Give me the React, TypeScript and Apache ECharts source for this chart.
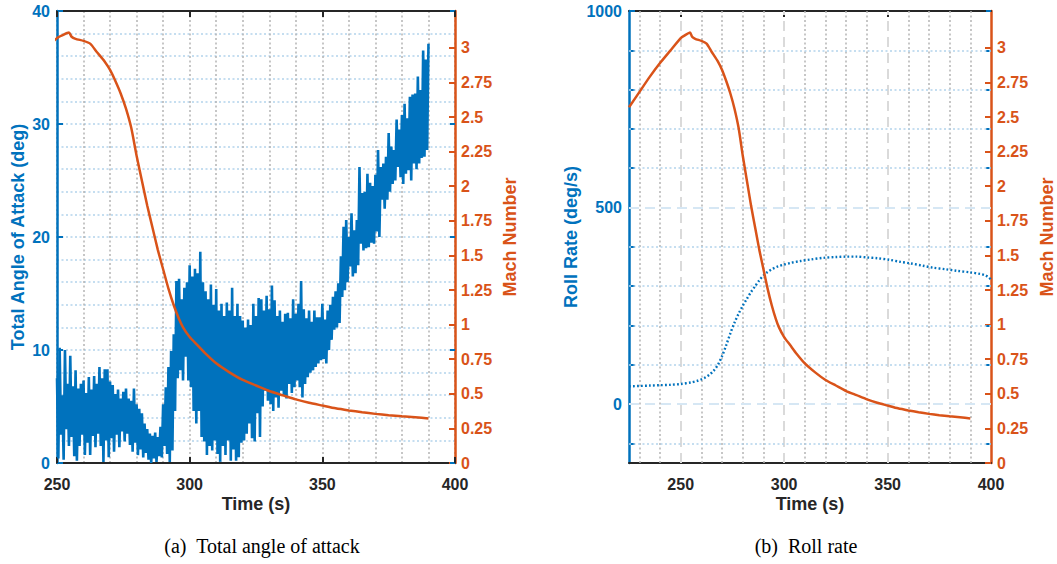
import React, { useEffect, useRef } from "react";
import * as echarts from "echarts";

// ---------------- data ----------------
// Total angle of attack: upper envelope samples at t = 250, 251, ... 390 (deg)
const aoaStartTime = 250;
const aoaHigh = [
  7.5, 10.2, 6.0, 10.0, 7.0, 9.5, 6.8, 8.2, 6.6, 7.0,
  7.3, 6.2, 7.6, 6.5, 7.7, 7.0, 8.5, 7.5, 8.3, 8.3,
  7.2, 6.9, 6.1, 6.5, 5.7, 6.3, 6.6, 5.7, 5.5, 6.6,
  5.2, 4.8, 4.4, 3.5, 3.0, 2.6, 2.4, 2.7, 2.3, 3.2,
  5.2, 6.7, 8.5, 9.9, 11.4, 16.1, 16.3, 14.5, 15.5, 16.0,
  17.5, 16.5, 17.2, 16.8, 18.7, 16.0, 15.2, 14.5, 15.8, 14.0,
  15.4, 13.5, 14.1, 13.0, 14.2, 13.5, 15.5, 13.0, 14.1, 13.0,
  12.6, 12.0, 12.7, 12.2, 14.1, 13.0, 14.6, 14.5, 13.5, 14.8,
  13.6, 15.7, 14.4, 13.0, 13.5, 12.5, 13.2, 13.3, 12.8, 14.5,
  13.2, 14.1, 16.1, 13.6, 12.8, 13.5, 12.5, 13.5, 12.9, 12.9,
  14.1, 12.7, 13.5, 14.0, 14.7, 15.2, 15.9, 18.3, 20.9, 21.5,
  20.0, 22.1, 20.6, 21.5, 26.2, 23.9, 24.0, 25.6, 24.8, 24.5,
  25.5, 27.7, 26.2, 26.5, 27.1, 29.2, 28.0, 27.7, 30.4, 29.5,
  30.8, 31.8, 30.5, 32.4, 32.6, 32.7, 34.2, 33.0, 36.5, 35.7,
  37.1,
];
// lower envelope samples at t = 250.5, 251.5, ... 389.5 (deg)
const aoaLow = [
  0.4, 2.5, 0.3, 3.0, 1.5, 2.3, 0.6, 0.2, 1.5, 2.5,
  0.7, 1.8, 0.7, 2.4, 1.4, 2.6, 1.5, 0.1, 2.0, 0.5,
  2.2, 1.0, 2.5, 1.4, 2.8, 1.9, 2.6, 1.6, 1.0, 1.8,
  0.7, 1.2, 0.5, 0.9, 0.3, 0.0, 0.4, 0.1, 0.6, 0.5,
  1.5, 0.8, 0.1, 1.1, 4.6, 7.5, 8.2, 7.3, 9.4, 7.3,
  6.7, 4.6, 3.5, 4.6, 2.3, 1.9, 0.7, 1.5, 1.1, 2.0,
  0.8, 0.1, 1.5, 0.7, 2.0, 0.2, 1.2, 0.2, 0.5, 1.8,
  2.0, 2.6, 3.5, 2.2, 1.9, 4.4, 2.3, 5.0, 6.4, 5.5,
  5.2, 4.6, 5.8, 4.9, 6.4, 6.0, 5.7, 7.0, 6.2, 6.7,
  7.3, 6.7, 5.8, 7.0, 7.6, 8.0, 8.2, 8.5, 8.8, 9.1,
  9.2, 8.8, 10.0, 10.9, 11.8, 12.0, 12.4, 14.7, 15.3, 16.0,
  17.4, 16.5, 16.8, 17.5, 19.4, 18.8, 19.0, 19.1, 19.5, 19.4,
  20.5, 20.0, 23.3, 22.5, 23.3, 24.0, 24.7, 25.0, 26.2, 25.3,
  24.7, 25.6, 25.9, 25.0, 26.5, 26.0, 26.5, 27.0, 27.1, 27.7,
];

// Mach number
const machTime = [
  225, 230, 235, 240, 245, 250, 252, 254.5, 255.5, 257, 260, 262.5, 265, 268,
  270, 272, 274, 276, 278, 280, 282, 284, 286, 288, 290, 292, 294, 296, 297.5,
  300, 303, 306, 310, 315, 320, 325, 330, 335, 340, 345, 350, 355, 360, 365,
  370, 375, 380, 385, 390,
];
const machValue = [
  2.57, 2.68, 2.79, 2.89, 2.98, 3.07, 3.09, 3.11, 3.08, 3.065, 3.05, 3.03, 2.97,
  2.9, 2.84, 2.76, 2.67, 2.56, 2.42, 2.22, 2.04, 1.86, 1.7, 1.54, 1.4, 1.26,
  1.14, 1.04, 0.98, 0.91, 0.85, 0.79, 0.72, 0.655, 0.6, 0.56, 0.52, 0.49, 0.46,
  0.435, 0.415, 0.395, 0.38, 0.367, 0.355, 0.345, 0.337, 0.33, 0.322,
];

// Roll rate (deg/s)
const rollTime = [
  225, 230, 235, 240, 245, 250, 255, 258, 260, 262, 264, 266, 268, 270, 272,
  274, 276, 278, 280, 282, 284, 286, 288, 290, 292, 294, 297, 300, 303, 308,
  313, 319, 325, 330, 335, 340, 345, 351, 356, 361, 367, 372, 378, 383.5, 390,
  394.8, 397, 399, 400,
];
const rollRate = [
  45, 46, 47, 48, 49, 51, 55, 59, 63, 68, 75, 85, 100, 122, 150, 180, 207, 230,
  250, 268, 285, 300, 315, 327, 336, 343, 350, 355, 359, 364, 368, 372, 374,
  375, 375, 373, 371, 367, 362, 358, 352, 347, 343, 339, 335, 331, 328, 322,
  316,
];

// ticks / gridlines
const machTicks = [0, 0.25, 0.5, 0.75, 1, 1.25, 1.5, 1.75, 2, 2.25, 2.5, 2.75, 3];
const machMax = 3.266;
const rollXLabels = [250, 300, 350, 400];
const rollXMajor = [250, 300, 350];
const rollXMinor = [230, 240, 260, 270, 280, 290, 310, 320, 330, 340, 360, 370, 380, 390];
const rollYLabels = [0, 500, 1000];
const rollYTicks = [-100, 0, 100, 200, 300, 400, 500, 600, 700, 800, 900, 1000];
const rollYMajor = [0, 500];
const rollYMinor = [-100, 100, 200, 300, 400, 600, 700, 800, 900];

// ---------------- styles ----------------
const BLUE = "#0072BD";
const ORANGE = "#D95319";
const DARK = "#262626";
const GRAY_DOT = "#b4b4b4";
const BLUE_DOT = "#b3d3ec";
const GRAY_DASH = "#dadada";
const BLUE_DASH = "#d6e7f4";
const FONT = "'Liberation Sans', Arial, Helvetica, sans-serif";
const SERIF = "'Liberation Serif', 'Times New Roman', serif";
const DOT = [2, 2.5];
const DASH = [10, 6];

const plain = (v: number) => String(v);

const labelStyle = (color: string, margin: number) => ({
  color,
  fontWeight: "bold" as const,
  fontSize: 16,
  fontFamily: FONT,
  margin,
  formatter: plain,
});

function buildOption() {
  const aoaData: number[][] = [];
  for (let i = 0; i < aoaHigh.length; i++) {
    aoaData.push([aoaStartTime + i, aoaHigh[i]]);
    if (i < aoaLow.length) aoaData.push([aoaStartTime + i + 0.5, aoaLow[i]]);
  }
  const machData = machTime.map((t, i) => [t, machValue[i]]);
  const rollData = rollTime.map((t, i) => [t, rollRate[i]]);

  const machAxis = (gridIndex: number) => ({
    type: "value",
    gridIndex,
    position: "right",
    min: 0,
    max: machMax,
    axisLine: { show: true, onZero: false, lineStyle: { color: ORANGE, width: 2.5 } },
    axisTick: { show: true, inside: true, length: 6, customValues: machTicks, lineStyle: { color: ORANGE, width: 2 } },
    axisLabel: { show: true, customValues: machTicks, ...labelStyle(ORANGE, 6) },
    splitLine: { show: false },
  });

  const gridLines = [
    ...rollXMinor.map((v) => ({ xAxis: v, lineStyle: { color: GRAY_DOT, type: DOT, width: 1.5 } })),
    ...rollXMajor.map((v) => ({ xAxis: v, lineStyle: { color: GRAY_DASH, type: DASH, width: 2 } })),
    ...rollYMinor.map((v) => ({ yAxis: v, lineStyle: { color: BLUE_DOT, type: DOT, width: 1.5 } })),
    ...rollYMajor.map((v) => ({ yAxis: v, lineStyle: { color: BLUE_DASH, type: DASH, width: 2 } })),
  ];

  return {
    animation: false,
    backgroundColor: "#ffffff",
    grid: [
      { left: 57, top: 11, width: 398, height: 452, containLabel: false },
      { left: 629, top: 11, width: 362, height: 452, containLabel: false },
    ],
    xAxis: [
      {
        type: "value",
        gridIndex: 0,
        position: "bottom",
        min: 250,
        max: 400,
        interval: 50,
        axisLine: { onZero: false, lineStyle: { color: DARK, width: 2 } },
        axisTick: { inside: true, length: 6, lineStyle: { color: DARK, width: 2 } },
        axisLabel: { ...labelStyle(DARK, 13), showMinLabel: true, showMaxLabel: true },
        splitLine: { show: true, lineStyle: { color: GRAY_DOT, type: DOT, width: 1.5 } },
        minorTick: { show: false, splitNumber: 5 },
        minorSplitLine: { show: true, lineStyle: { color: GRAY_DOT, type: DOT, width: 1.5 } },
      },
      {
        type: "value",
        gridIndex: 0,
        position: "top",
        min: 250,
        max: 400,
        interval: 50,
        axisLine: { onZero: false, lineStyle: { color: DARK, width: 2 } },
        axisTick: { inside: true, length: 6, lineStyle: { color: DARK, width: 2 } },
        axisLabel: { show: false },
        splitLine: { show: false },
      },
      {
        type: "value",
        gridIndex: 1,
        position: "bottom",
        min: 225,
        max: 400,
        axisLine: { onZero: false, lineStyle: { color: DARK, width: 2 } },
        axisTick: { inside: true, length: 6, customValues: rollXMajor, lineStyle: { color: DARK, width: 2 } },
        axisLabel: { ...labelStyle(DARK, 13), customValues: rollXLabels, showMinLabel: true, showMaxLabel: true },
        splitLine: { show: false },
      },
      {
        type: "value",
        gridIndex: 1,
        position: "top",
        min: 225,
        max: 400,
        axisLine: { onZero: false, lineStyle: { color: DARK, width: 2 } },
        axisTick: { inside: true, length: 6, customValues: rollXMajor, lineStyle: { color: DARK, width: 2 } },
        axisLabel: { show: false },
        splitLine: { show: false },
      },
    ],
    yAxis: [
      {
        type: "value",
        gridIndex: 0,
        position: "left",
        min: 0,
        max: 40,
        interval: 10,
        axisLine: { show: true, onZero: false, lineStyle: { color: BLUE, width: 2.5 } },
        axisTick: { show: true, inside: true, length: 6, lineStyle: { color: BLUE, width: 2 } },
        axisLabel: labelStyle(BLUE, 7),
        splitLine: { show: true, lineStyle: { color: BLUE_DOT, type: DOT, width: 1.5 } },
        minorTick: { show: false, splitNumber: 5 },
        minorSplitLine: { show: true, lineStyle: { color: BLUE_DOT, type: DOT, width: 1.5 } },
      },
      machAxis(0),
      {
        type: "value",
        gridIndex: 0,
        position: "right",
        min: 0,
        max: 40,
        interval: 10,
        axisLine: { show: false },
        axisTick: { show: true, inside: true, length: 5, lineStyle: { color: BLUE, width: 2 } },
        axisLabel: { show: false },
        splitLine: { show: false },
      },
      {
        type: "value",
        gridIndex: 1,
        position: "left",
        min: -150,
        max: 1000,
        axisLine: { show: true, onZero: false, lineStyle: { color: BLUE, width: 2.5 } },
        axisTick: { show: true, inside: true, length: 6, customValues: rollYTicks, lineStyle: { color: BLUE, width: 2 } },
        axisLabel: { ...labelStyle(BLUE, 7), customValues: rollYLabels, showMaxLabel: true },
        splitLine: { show: false },
      },
      machAxis(1),
      {
        type: "value",
        gridIndex: 1,
        position: "right",
        min: -150,
        max: 1000,
        axisLine: { show: false },
        axisTick: { show: true, inside: true, length: 5, customValues: rollYTicks, lineStyle: { color: BLUE, width: 2 } },
        axisLabel: { show: false },
        splitLine: { show: false },
      },
    ],
    series: [
      {
        name: "Total Angle of Attack",
        type: "line",
        xAxisIndex: 0,
        yAxisIndex: 0,
        data: aoaData,
        showSymbol: false,
        symbol: "none",
        lineStyle: { color: BLUE, width: 2.6, join: "miter" },
        z: 3,
      },
      {
        name: "Mach Number (a)",
        type: "line",
        xAxisIndex: 0,
        yAxisIndex: 1,
        data: machData,
        showSymbol: false,
        symbol: "none",
        smooth: 0.2,
        lineStyle: { color: ORANGE, width: 2.5 },
        z: 4,
      },
      {
        name: "grid",
        type: "line",
        xAxisIndex: 2,
        yAxisIndex: 3,
        data: [],
        symbol: "none",
        z: 1,
        markLine: {
          silent: true,
          symbol: "none",
          z: 1,
          label: { show: false },
          emphasis: { disabled: true },
          data: gridLines,
        },
      },
      {
        name: "Roll Rate",
        type: "line",
        xAxisIndex: 2,
        yAxisIndex: 3,
        data: rollData,
        showSymbol: false,
        symbol: "none",
        smooth: 0.3,
        lineStyle: { color: BLUE, width: 2.4, type: [1.8, 2.2] },
        z: 3,
      },
      {
        name: "Mach Number (b)",
        type: "line",
        xAxisIndex: 2,
        yAxisIndex: 4,
        data: machData,
        showSymbol: false,
        symbol: "none",
        smooth: 0.2,
        lineStyle: { color: ORANGE, width: 2.5 },
        z: 4,
      },
    ],
    graphic: [
      vtext("Total Angle of Attack (deg)", 18, 237, BLUE),
      vtext("Mach Number", 510, 237, ORANGE),
      vtext("Roll Rate (deg/s)", 571, 237, BLUE),
      vtext("Mach Number", 1047, 237, ORANGE),
      htext("Time (s)", 256, 504, "bold 18px " + FONT, DARK),
      htext("Time (s)", 810, 504, "bold 18px " + FONT, DARK),
      htext("(a)  Total angle of attack", 262, 546, "20px " + SERIF, "#000000"),
      htext("(b)  Roll rate", 806, 546, "20px " + SERIF, "#000000"),
    ],
  };
}

function vtext(text: string, x: number, y: number, color: string) {
  return {
    type: "text",
    x,
    y,
    rotation: Math.PI / 2,
    silent: true,
    style: {
      text,
      fill: color,
      font: "bold 18px " + FONT,
      textAlign: "center",
      textVerticalAlign: "middle",
      align: "center",
      verticalAlign: "middle",
    },
  };
}

function htext(text: string, x: number, y: number, font: string, color: string) {
  return {
    type: "text",
    x,
    y,
    silent: true,
    style: {
      text,
      fill: color,
      font,
      textAlign: "center",
      textVerticalAlign: "middle",
      align: "center",
      verticalAlign: "middle",
    },
  };
}

export default function App() {
  const ref = useRef<HTMLDivElement>(null);
  useEffect(() => {
    if (!ref.current) return;
    const chart = echarts.init(ref.current, undefined, { renderer: "svg" });
    chart.setOption(buildOption() as any);
    return () => chart.dispose();
  }, []);
  return (
    <div
      ref={ref}
      style={{ position: "absolute", left: 0, top: 0, width: 1057, height: 564, background: "#fff" }}
    />
  );
}
